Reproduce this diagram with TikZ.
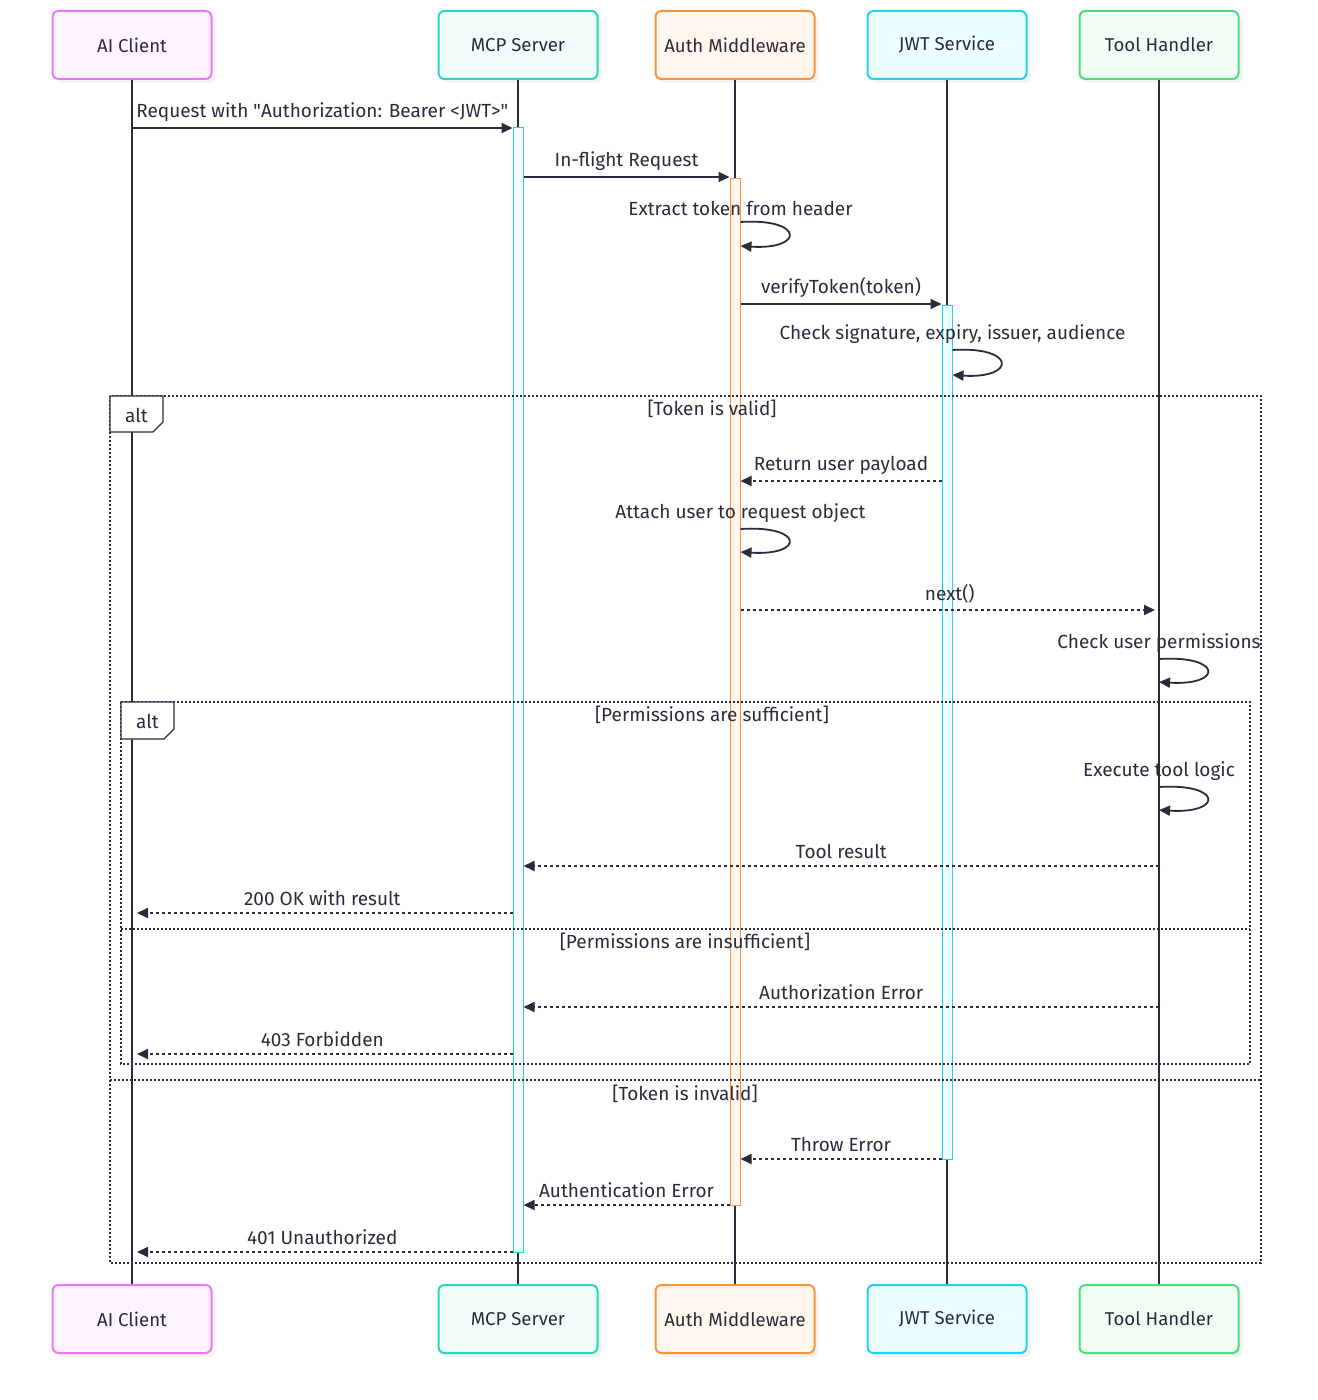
\documentclass[tikz,border=0pt]{standalone}
\usepackage{fontspec}
\setmainfont{Fira Sans}
\usetikzlibrary{arrows.meta,shadows}
\definecolor{ink}{HTML}{2B2B3B}
\definecolor{lclient}{HTML}{E879F9}
\definecolor{fclient}{HTML}{FDF4FF}
\definecolor{lmcp}{HTML}{2DD4BF}
\definecolor{fmcp}{HTML}{F0FDFA}
\definecolor{lauth}{HTML}{FB923C}
\definecolor{fauth}{HTML}{FFF7ED}
\definecolor{ljwt}{HTML}{22D3EE}
\definecolor{fjwt}{HTML}{ECFEFF}
\definecolor{ltool}{HTML}{4ADE80}
\definecolor{ftool}{HTML}{F0FDF4}
\begin{document}
\begin{tikzpicture}[x=0.5pt, y=-0.5pt,
  actor/.style={line width=1pt, rounded corners=3pt, minimum width=79.5pt, minimum height=34pt, text=ink, font=\fontsize{9.3}{11}\selectfont, drop shadow={opacity=0.1, shadow xshift=2pt, shadow yshift=-2pt}},
  life/.style={ink, line width=1pt},
  bar/.style={line width=0.5pt, minimum width=5pt, inner sep=0pt},
  msg/.style={ink, line width=0.9pt, -{Triangle[length=5.5pt,width=5pt]}},
  reply/.style={msg, dash pattern=on 1.5pt off 1.5pt},
  selfloop/.style={msg, to path={.. controls +(64,-4) and +(64,4) .. (\tikztotarget)}},
  lbl/.style={text=ink, font=\fontsize{9.5}{11}\selectfont, inner sep=0pt},
  frame/.style={ink, line width=0.7pt, dash pattern=on 1pt off 1pt},
  tag/.style={ink, fill=white, line width=0.6pt}]
\useasboundingbox (0,0) rectangle (1317,1400);
\foreach \name/\x/\col/\txt in {ai/132/client/AI Client, mcp/518/mcp/MCP Server, auth/735/auth/Auth Middleware, jwt/947/jwt/JWT Service, tool/1159/tool/Tool Handler}
{
\node[actor, draw=l\col, fill=f\col] (\name) at (\x,45) {\txt};
\node[actor, draw=l\col, fill=f\col] (\name b) at (\x,1319) {\txt};
\draw[life] (\name) -- (\name b);
}
\node[bar, draw=lmcp, fill=fmcp, minimum height=562pt] (mcpbar) at (518,690) {};
\node[bar, draw=lauth, fill=fauth, minimum height=513pt] (authbar) at (735,692) {};
\node[bar, draw=ljwt, fill=fjwt, minimum height=426.5pt] (jwtbar) at (947,732.5) {};
\draw[frame] (110,396) rectangle (1261,1263);
\draw[frame] (110,1080) -- (1261,1080);
\draw[tag] (110,396) -- (163,396) -- (163,422) -- (153,432) -- (110,432) -- cycle;
\node[lbl] (alt1) at (136.5,415) {alt};
\node[lbl] (valid) at (712,409) {[Token is valid]};
\node[lbl] (invalid) at (685,1094) {[Token is invalid]};
\draw[frame] (121,702) rectangle (1250,1064);
\draw[frame] (121,929) -- (1250,929);
\draw[tag] (121,702) -- (174,702) -- (174,729) -- (164,739) -- (121,739) -- cycle;
\node[lbl] (alt2) at (147.5,721) {alt};
\node[lbl] (enough) at (712,715) {[Permissions are sufficient]};
\node[lbl] (notenough) at (685,942) {[Permissions are insufficient]};
\draw[msg] (ai.south |- 0,128) -- node[lbl, above=3pt] {Request with \textquotedbl Authorization: Bearer <JWT>\textquotedbl} (mcpbar.west |- 0,128);
\draw[msg] (mcpbar.east |- 0,177) -- node[lbl, above=3pt] {In-flight Request} (authbar.west |- 0,177);
\draw (authbar.east |- 0,222) node[lbl, above=3pt] {Extract token from header};
\draw[selfloop] (authbar.east |- 0,222) to (authbar.east |- 0,246);
\draw[msg] (authbar.east |- 0,304) -- node[lbl, above=3pt] {verifyToken(token)} (jwtbar.west |- 0,304);
\draw (jwtbar.east |- 0,350) node[lbl, above=3pt] {Check signature, expiry, issuer, audience};
\draw[selfloop] (jwtbar.east |- 0,350) to (jwtbar.east |- 0,375);
\draw[reply] (jwtbar.west |- 0,481) -- node[lbl, above=3pt] {Return user payload} (authbar.east |- 0,481);
\draw (authbar.east |- 0,529) node[lbl, above=3pt] {Attach user to request object};
\draw[selfloop] (authbar.east |- 0,529) to (authbar.east |- 0,552);
\draw[reply, shorten >=2pt] (authbar.east |- 0,610) -- node[lbl, above=3pt] {next()} (tool.south |- 0,610);
\draw (tool.south |- 0,659) node[lbl, above=3pt] {Check user permissions};
\draw[selfloop] (tool.south |- 0,659) to (tool.south |- 0,682);
\draw (tool.south |- 0,787) node[lbl, above=3pt] {Execute tool logic};
\draw[selfloop] (tool.south |- 0,787) to (tool.south |- 0,810);
\draw[reply] (tool.south |- 0,866) -- node[lbl, above=3pt] {Tool result} (mcpbar.east |- 0,866);
\draw[reply, shorten >=2.5pt] (mcpbar.west |- 0,913) -- node[lbl, above=3pt] {200 OK with result} (ai.south |- 0,913);
\draw[reply] (tool.south |- 0,1007) -- node[lbl, above=3pt] {Authorization Error} (mcpbar.east |- 0,1007);
\draw[reply, shorten >=2.5pt] (mcpbar.west |- 0,1054) -- node[lbl, above=3pt] {403 Forbidden} (ai.south |- 0,1054);
\draw[reply] (jwtbar.west |- 0,1159) -- node[lbl, above=3pt] {Throw Error} (authbar.east |- 0,1159);
\draw[reply] (authbar.west |- 0,1205) -- node[lbl, above=3pt] {Authentication Error} (mcpbar.east |- 0,1205);
\draw[reply, shorten >=2.5pt] (mcpbar.west |- 0,1252) -- node[lbl, above=3pt] {401 Unauthorized} (ai.south |- 0,1252);
\end{tikzpicture}
\end{document}
